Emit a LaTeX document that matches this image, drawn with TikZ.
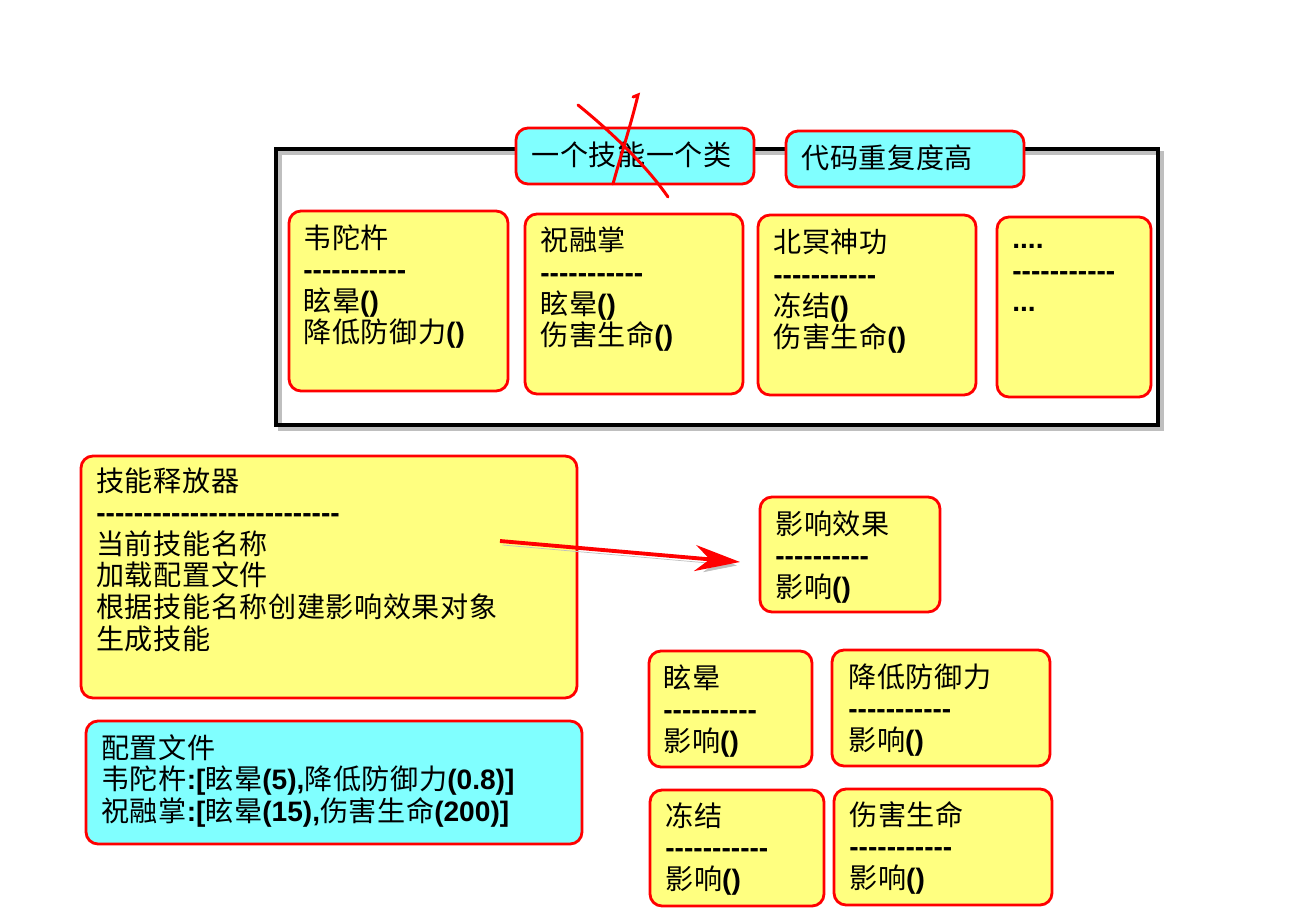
\documentclass[tikz,border=0pt]{standalone}
\usepackage{fontspec}
\setmainfont{Liberation Sans}[Ligatures=TeXOff]
\newfontfamily\cjk{Noto Sans CJK SC}[LetterSpace=2]
\usetikzlibrary{arrows.meta,fit}
\definecolor{notecyan}{HTML}{80FFFF}
\definecolor{classyellow}{HTML}{FFFF80}
\newcommand{\zh}[1]{{\cjk\mdseries #1}}
\tikzset{
  box/.style={draw=red, line width=1.6pt, rounded corners=0.24cm, inner sep=0pt},
  classbox/.style={box, fill=classyellow},
  notebox/.style={box, fill=notecyan},
  txt/.style={anchor=north west, inner sep=0pt, align=left,
    font=\fontsize{16}{18}\selectfont\bfseries}
}

\begin{document}
\begin{tikzpicture}[x=0.02cm, y=-0.02cm]
        \useasboundingbox (0,0) rectangle (1297,923);

        % Define the frame of the skill classes
        \node[draw, line width=2.3pt, inner sep=0pt, fit={(276,149) (1158,425)},
              preaction={draw=black!25, transform canvas={shift={(0.08cm,-0.08cm)}}}] (skills) {};

        % Define the notes on the frame
        \node[notebox, fit={(516,128) (754,184)}] (note1) {};
        \node[txt] (note1txt) at (531,141) {\zh{一个技能一个类}};
        \node[notebox, fit={(786,131) (1024,187)}] (note2) {};
        \node[txt] (note2txt) at (801,144) {\zh{代码重复度高}};

        % Define the skill classes
        \node[classbox, fit={(289,211) (508,391)}] (wtc) {};
        \node[txt] (wtctxt) at (303,224) {\zh{韦陀杵}\\-----------\\\zh{眩晕}()\\\zh{降低防御力}()};

        \node[classbox, fit={(525,214) (743,394)}] (zrz) {};
        \node[txt] (zrztxt) at (540,227) {\zh{祝融掌}\\-----------\\\zh{眩晕}()\\\zh{伤害生命}()};

        \node[classbox, fit={(758,215) (976,395)}] (bmsg) {};
        \node[txt] (bmsgtxt) at (773,229) {\zh{北冥神功}\\-----------\\\zh{冻结}()\\\zh{伤害生命}()};

        \node[classbox, fit={(997,217) (1151,397)}] (more) {};
        \node[txt] (moretxt) at (1012,226) {\zh{\vphantom{国}}....\\-----------\\...};

        % Define the strike-through
        \draw[red, line width=1.7pt, line cap=round] (578,105) .. controls (615,135) and (648,168) .. (668,197);
        \draw[red, line width=1.7pt, line cap=round] (633,97) -- (638,95) .. controls (630,128) and (620,158) .. (613,184);

        % Define the releaser and the config file
        \node[classbox, fit={(81,456) (577,698)}] (releaser) {};
        \node[txt] (releasertxt) at (96,467) {\zh{技能释放器}\\--------------------------\\\zh{当前技能名称}\\\zh{加载配置文件}\\\zh{根据技能名称创建影响效果对象}\\\zh{生成技能}};

        \node[notebox, fit={(86,721) (582,844)}] (config) {};
        \node[txt] (configtxt) at (101,734) {\zh{配置文件}\\\zh{韦陀杵}:[\zh{眩晕}(5),\zh{降低防御力}(0.8)]\\\zh{祝融掌}:[\zh{眩晕}(15),\zh{伤害生命}(200)]};

        % Define the effects
        \node[classbox, fit={(760,497) (940,612)}] (effect) {};
        \node[txt] (effecttxt) at (775,510) {\zh{影响效果}\\----------\\\zh{影响}()};

        \node[classbox, fit={(649,651) (812,767)}] (stun) {};
        \node[txt] (stuntxt) at (663,664) {\zh{眩晕}\\----------\\\zh{影响}()};

        \node[classbox, fit={(832,650) (1050,766)}] (defdown) {};
        \node[txt] (defdowntxt) at (848,663) {\zh{降低防御力}\\-----------\\\zh{影响}()};

        \node[classbox, fit={(650,790) (824,906)}] (freeze) {};
        \node[txt] (freezetxt) at (665,802) {\zh{冻结}\\-----------\\\zh{影响}()};

        \node[classbox, fit={(834,789) (1052,905)}] (damage) {};
        \node[txt] (damagetxt) at (849,801) {\zh{伤害生命}\\-----------\\\zh{影响}()};

        % Define the arrow
        \coordinate (arrstart) at (500,541);
        \coordinate (arrtip) at (740,562);
        \draw[red, line width=2.2pt, -{Stealth[length=0.9cm, width=0.52cm]},
              preaction={draw=black!25, transform canvas={shift={(0.05cm,-0.08cm)}}}] (arrstart) -- (arrtip);

    \end{tikzpicture}
\end{document}
